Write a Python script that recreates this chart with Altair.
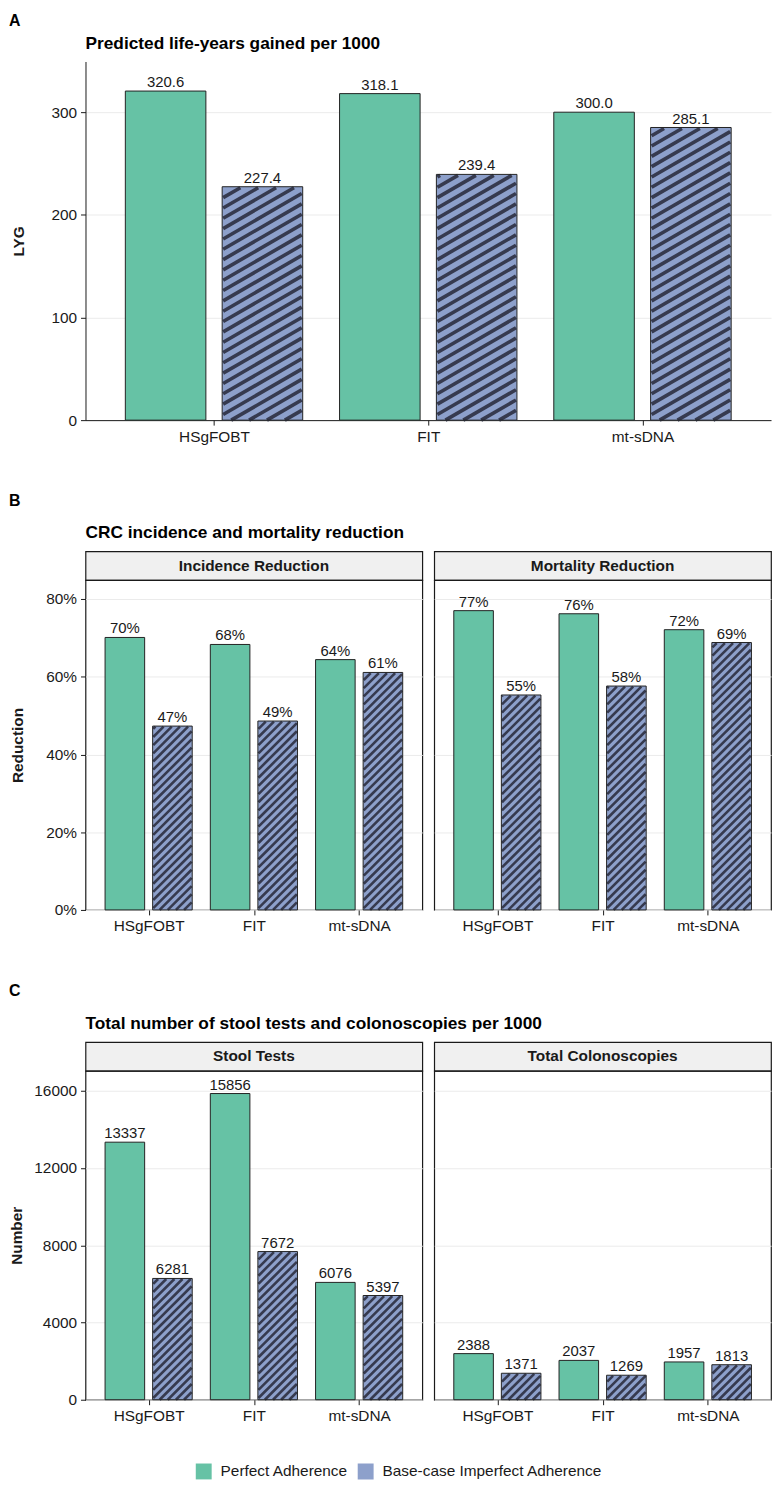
import json
import math
import altair as alt
import pandas as pd

FONT = "Liberation Sans"
INK = "#1A1A1A"
BAR_EDGE = "#222222"
HATCH_INK = "#363A4F"
GREEN = "#66C2A5"
BLUE = "#8DA0CB"
GRID = "#EBEBEB"
STRIP_FILL = "#F0F0F0"

# ---------------- data ----------------
TESTS = ["HSgFOBT", "FIT", "mt-sDNA"]
SERIES = ["Perfect Adherence", "Base-case Imperfect Adherence"]

LYG_PERFECT = [320.6, 318.1, 300.0]
LYG_IMPERFECT = [227.4, 239.4, 285.1]

PANELS_B = ["Incidence Reduction", "Mortality Reduction"]
INC_PERFECT = [0.701, 0.683, 0.644]
INC_IMPERFECT = [0.473, 0.486, 0.611]
MORT_PERFECT = [0.770, 0.762, 0.721]
MORT_IMPERFECT = [0.553, 0.576, 0.688]

PANELS_C = ["Stool Tests", "Total Colonoscopies"]
STOOL_PERFECT = [13337, 15856, 6076]
STOOL_IMPERFECT = [6281, 7672, 5397]
COLO_PERFECT = [2388, 2037, 1957]
COLO_IMPERFECT = [1371, 1269, 1813]

TICKS_A = [0, 100, 200, 300]
TICKS_B = [0, 0.2, 0.4, 0.6, 0.8]
TICKS_C = [0, 4000, 8000, 12000, 16000]


def long_rows(panel, perfect, imperfect):
    rows = []
    for t, p, q in zip(TESTS, perfect, imperfect):
        rows.append({"panel": panel, "test": t, "series": SERIES[0], "value": p})
        rows.append({"panel": panel, "test": t, "series": SERIES[1], "value": q})
    return rows


df = pd.DataFrame(
    long_rows("LYG", LYG_PERFECT, LYG_IMPERFECT)
    + long_rows(PANELS_B[0], INC_PERFECT, INC_IMPERFECT)
    + long_rows(PANELS_B[1], MORT_PERFECT, MORT_IMPERFECT)
    + long_rows(PANELS_C[0], STOOL_PERFECT, STOOL_IMPERFECT)
    + long_rows(PANELS_C[1], COLO_PERFECT, COLO_IMPERFECT)
)

# ---------------- style ----------------
INNER = 0.038   # half gap between the two bars of a group (x units)
OUTER = 0.414   # outer edge of a bar from the group centre (x units)


def hatch_symbol():
    segs = ["M-1,-1H1V1H-1Z"]
    for c in (-1.3, -0.43, 0.43, 1.3):
        if c >= 0:
            segs.append(f"M{c - 1:.3f},1L1,{c - 1:.3f}")
        else:
            segs.append(f"M-1,{c + 1:.3f}L{c + 1:.3f},-1")
    return "".join(segs)


LEGEND = alt.Legend(
    title=None,
    orient="none",
    legendX=110,
    legendY=1410,
    direction="horizontal",
    symbolSize=256,
    symbolStrokeColor=BAR_EDGE,
    symbolStrokeWidth=1.3,
    symbolOpacity=1,
    labelFont=FONT,
    labelFontSize=15.5,
    labelColor=INK,
    labelOffset=8,
    labelLimit=400,
    columnPadding=6,
)

COLOR_SCALE = alt.Scale(domain=SERIES, range=[GREEN, BLUE])
BAR_COLOR = alt.Color("series:N", scale=COLOR_SCALE, legend=None)
KEY_COLOR = alt.Color("series:N", scale=COLOR_SCALE, legend=LEGEND)
KEY_SHAPE = alt.Shape("series:N", scale=alt.Scale(domain=SERIES, range=["square", hatch_symbol()]),
                      legend=LEGEND)


def panel(name, width, height, ymax, yvals, yfmt, tfmt, ytitle, show_y, border, hatch,
          title_pad=9.5, with_keys=False):
    angle, spacing, sw, inset = hatch
    xs = alt.Scale(domain=[0.4, 3.6], nice=False, zero=False)
    ys = alt.Scale(domain=[0, ymax], nice=False, zero=True)
    kx = width / 3.2
    ky = height / ymax

    base = (
        alt.Chart(df)
        .transform_filter(alt.datum.panel == name)
        .transform_calculate(idx="indexof(" + json.dumps(TESTS) + ", datum.test) + 1")
        .transform_calculate(imp=f"datum.series === '{SERIES[1]}' ? 1 : 0")
        .transform_calculate(x0=f"datum.idx + (datum.imp ? {INNER} : -{OUTER})")
        .transform_calculate(x1=f"datum.idx + (datum.imp ? {OUTER} : -{INNER})")
        .transform_calculate(xc="(datum.x0 + datum.x1) / 2")
    )

    xaxis = alt.Axis(
        values=[1, 2, 3],
        labelExpr=json.dumps(TESTS) + "[datum.value - 1]",
        grid=False,
        domain=not border,
        domainColor=INK,
        domainWidth=1,
        ticks=True,
        tickSize=5,
        tickColor=INK,
        tickWidth=1,
        labelPadding=4,
        labelFont=FONT,
        labelFontSize=15.5,
        labelColor=INK,
        labelAngle=0,
        labelFlush=False,
        labelOverlap=False,
        title=None,
    )
    if show_y:
        yaxis = alt.Axis(
            values=yvals,
            format=yfmt,
            grid=True,
            gridColor=GRID,
            gridWidth=1,
            domain=not border,
            domainColor=INK,
            domainWidth=1,
            tickSize=5,
            tickColor=INK,
            tickWidth=1,
            labelPadding=4,
            labelFont=FONT,
            labelFontSize=15.5,
            labelColor=INK,
            labelFlush=False,
            labelOverlap=False,
            title=ytitle,
            titleFont=FONT,
            titleFontSize=15.5,
            titleFontWeight="bold",
            titleColor=INK,
            titlePadding=title_pad,
        )
    else:
        yaxis = alt.Axis(values=yvals, grid=True, gridColor=GRID, gridWidth=1,
                         labels=False, ticks=False, domain=False, title=None)

    def X(f):
        return alt.X(f, type="quantitative", scale=xs, axis=xaxis)

    def Y(f):
        return alt.Y(f, type="quantitative", scale=ys, axis=yaxis)

    layers = []
    if with_keys:
        # small points hidden behind the bars; they only carry the legend keys
        keys = (
            base.transform_calculate(mid="datum.value / 2")
            .mark_point(filled=True, stroke=BAR_EDGE, strokeWidth=1.3)
            .encode(x=X("xc"), y=Y("mid"), color=KEY_COLOR, shape=KEY_SHAPE)
        )
        layers.append(keys)

    bars = base.mark_rect(strokeWidth=0).encode(
        x=X("x0"), x2="x1", y=Y("value"), y2=alt.datum(0), color=BAR_COLOR,
    )

    m = math.tan(math.radians(angle))
    pv = spacing / math.cos(math.radians(angle))
    bw = (OUTER - INNER) * kx
    stripes = (
        base.transform_filter("datum.imp == 1")
        .transform_calculate(bh=f"datum.value * {ky}")
        .transform_calculate(ks=f"sequence(0, ceil((datum.bh + {m * bw}) / {pv}) + 1)")
        .transform_flatten(["ks"])
        .transform_calculate(b=f"{-m * bw} + datum.ks * {pv}")
        .transform_calculate(ua=f"max({inset}, -datum.b / {m})")
        .transform_calculate(ub=f"min({bw - inset}, (datum.bh - {inset} - datum.b) / {m})")
        .transform_filter("datum.ua < datum.ub")
        .transform_calculate(sx0=f"datum.x0 + datum.ua / {kx}")
        .transform_calculate(sx1=f"datum.x0 + datum.ub / {kx}")
        .transform_calculate(sy0=f"({m} * datum.ua + datum.b) / {ky}")
        .transform_calculate(sy1=f"({m} * datum.ub + datum.b) / {ky}")
        .mark_rule(color=HATCH_INK, strokeWidth=sw, strokeCap="butt")
        .encode(x=X("sx0"), x2="sx1", y=Y("sy0"), y2="sy1")
    )

    outline = base.mark_rect(fillOpacity=0, stroke=BAR_EDGE, strokeWidth=1).encode(
        x=X("x0"), x2="x1", y=Y("value"), y2=alt.datum(0),
    )

    labels = base.mark_text(baseline="alphabetic", dy=-4, fontSize=15, font=FONT, color=INK).encode(
        x=X("xc"), y=Y("value"), text=alt.Text("value:Q", format=tfmt),
    )

    layers += [bars, stripes, outline, labels]
    ch = alt.layer(*layers).properties(width=width, height=height)
    if border:
        ch = ch.properties(view=alt.ViewBackground(stroke=INK, strokeWidth=1.2))
    return ch


def strip(name, width):
    return (
        alt.Chart(pd.DataFrame({"panel": [name]}))
        .mark_text(font=FONT, fontSize=15.5, fontWeight="bold", color=INK, align="center", baseline="middle")
        .encode(text="panel:N")
        .properties(width=width, height=29,
                    view=alt.ViewBackground(fill=STRIP_FILL, stroke=INK, strokeWidth=1.2))
    )


LETTER_DX = -77


def letter(txt, offset):
    return alt.TitleParams(txt, anchor="start", frame="group", dx=LETTER_DX, font=FONT, fontSize=16,
                           fontWeight="bold", color="#000000", offset=offset)


def heading(txt, offset):
    return alt.TitleParams(txt, anchor="start", frame="group", font=FONT, fontSize=17.4,
                           fontWeight="bold", color="#000000", offset=offset)


HATCH_A = (30, 9.0, 3.6, 1.0)
HATCH_BC = (45, 5.8, 2.6, 0.6)

# ---------------- row A ----------------
plotA = panel("LYG", 690, 361, 349.4, TICKS_A, "d", ".1f", "LYG", True, False, HATCH_A,
              title_pad=25, with_keys=True).properties(
    title=heading("Predicted life-years gained per 1000", 9))
rowA = alt.vconcat(plotA, title=letter("A", 6))

# ---------------- row B ----------------
WB = 339
colsB = []
for i, name in enumerate(PANELS_B):
    p = panel(name, WB, 332, 0.8486, TICKS_B, ".0%", ".0%", "Reduction", i == 0, True, HATCH_BC,
              title_pad=20)
    colsB.append(alt.vconcat(strip(name, WB), p, spacing=0, bounds="flush"))
rowB_in = alt.hconcat(*colsB, spacing=10, title=heading("CRC incidence and mortality reduction", 9)) \
    .resolve_scale(x="independent", y="independent")
rowB = alt.vconcat(rowB_in, title=letter("B", 16))

# ---------------- row C ----------------
WC = 339
colsC = []
for i, name in enumerate(PANELS_C):
    p = panel(name, WC, 331, 17029, TICKS_C, "d", "d", "Number", i == 0, True, HATCH_BC,
              title_pad=9.5)
    colsC.append(alt.vconcat(strip(name, WC), p, spacing=0, bounds="flush"))
rowC_in = alt.hconcat(*colsC, spacing=10,
                      title=heading("Total number of stool tests and colonoscopies per 1000", 9)) \
    .resolve_scale(x="independent", y="independent")
rowC = alt.vconcat(rowC_in, title=letter("C", 16))

chart = (
    alt.concat(rowA, rowB, rowC, columns=1, spacing=48)
    .resolve_scale(x="independent", y="independent")
    .properties(padding={"top": 0, "left": 0, "right": 0, "bottom": 0}, background="#FFFFFF")
    .configure_view(strokeWidth=0)
)

chart.save("out.html", embed_options={"renderer": "svg", "actions": False})
